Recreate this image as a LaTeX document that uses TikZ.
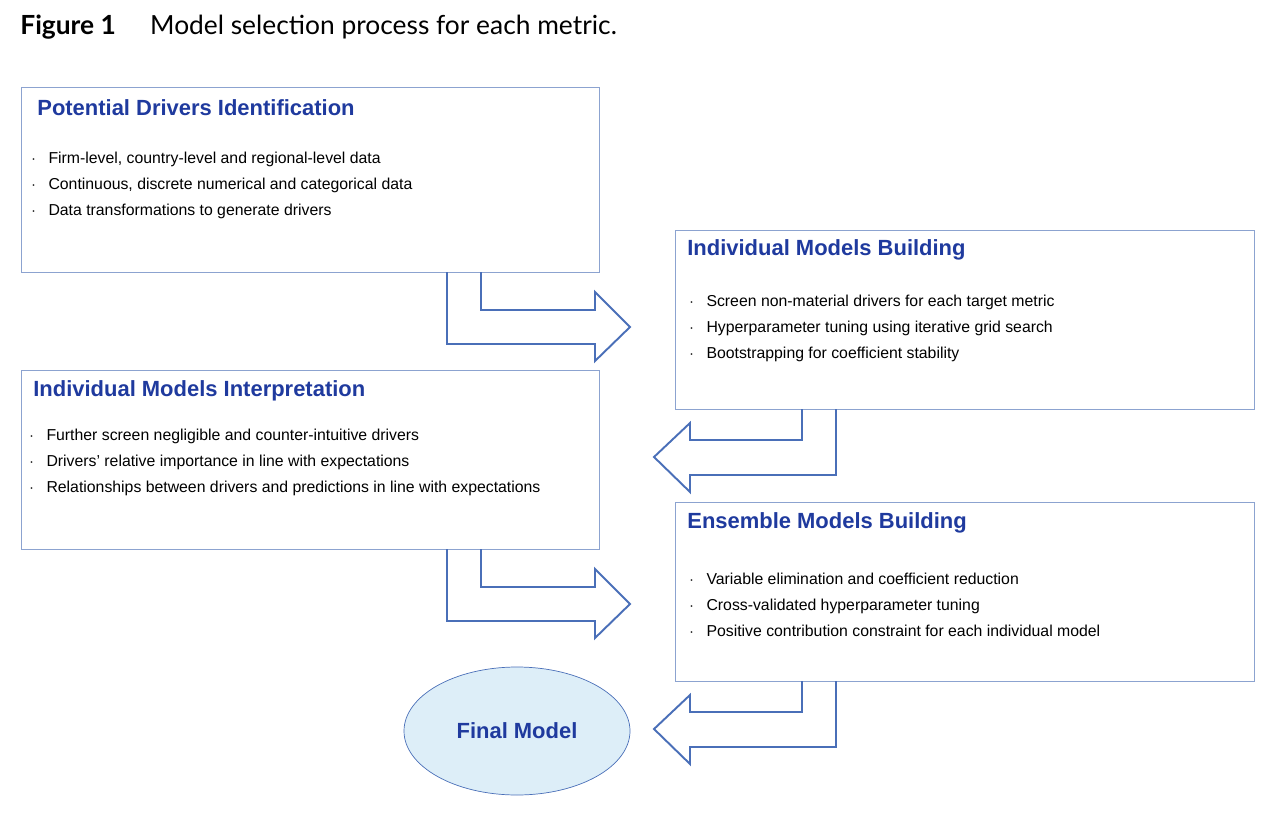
\documentclass[tikz,border=0pt]{standalone}
\usepackage{fontspec}
\setmainfont{Liberation Sans}
\newfontfamily\titlefont{Lato}
\usetikzlibrary{positioning}
\definecolor{headBlue}{HTML}{1F3A9E}
\definecolor{lineBlue}{HTML}{4A6FB8}
\definecolor{boxLine}{HTML}{8CA3D0}
\definecolor{ovalFill}{HTML}{DDEEF8}
\tikzstyle{stepBox}=[draw=boxLine, thin]
\tikzstyle{stepHead}=[anchor=west, inner sep=0pt, text=headBlue, font=\fontsize{12.5}{14}\selectfont\bfseries]
\tikzstyle{stepList}=[anchor=north west, inner sep=0pt, align=left, font=\fontsize{9}{14.7}\selectfont]
\tikzstyle{bentArrow}=[draw=lineBlue, line width=1.1pt, line join=miter]

\begin{document}
\begin{tikzpicture}[x=0.02cm, y=-0.02cm]
	\useasboundingbox (0,0) rectangle (1280,831);
	\node[anchor=west, inner sep=0pt, font=\titlefont\fontsize{15}{18}\selectfont] (title) at (20,27) {\textbf{Figure 1}\hspace{1.3em}Model selection process for each metric.};

	% boxes
	\draw[stepBox] (21,87) rectangle (599,272);
	\draw[stepBox] (675,230) rectangle (1254,409);
	\draw[stepBox] (21,370) rectangle (599,549);
	\draw[stepBox] (675,502) rectangle (1254,681);

	\node[stepHead] (h1) at (37,108) {Potential Drivers Identification};
	\node[stepList] (l1) at (31,152) {$\cdot$\hspace{0.8em}Firm-level, country-level and regional-level data\\$\cdot$\hspace{0.8em}Continuous, discrete numerical and categorical data\\$\cdot$\hspace{0.8em}Data transformations to generate drivers};

	\node[stepHead] (h2) at (687,250) {Individual Models Building};
	\node[stepList] (l2) at (689,295) {$\cdot$\hspace{0.8em}Screen non-material drivers for each target metric\\$\cdot$\hspace{0.8em}Hyperparameter tuning using iterative grid search\\$\cdot$\hspace{0.8em}Bootstrapping for coefficient stability};

	\node[stepHead] (h3) at (33,391) {Individual Models Interpretation};
	\node[stepList] (l3) at (29,429) {$\cdot$\hspace{0.8em}Further screen negligible and counter-intuitive drivers\\$\cdot$\hspace{0.8em}Drivers' relative importance in line with expectations\\$\cdot$\hspace{0.8em}Relationships between drivers and predictions in line with expectations};

	\node[stepHead] (h4) at (687,523) {Ensemble Models Building};
	\node[stepList] (l4) at (689,573) {$\cdot$\hspace{0.8em}Variable elimination and coefficient reduction\\$\cdot$\hspace{0.8em}Cross-validated hyperparameter tuning\\$\cdot$\hspace{0.8em}Positive contribution constraint for each individual model};

	\draw[draw=lineBlue, fill=ovalFill] (517,731) ellipse [x radius=113, y radius=64];
	\node[text=headBlue, font=\fontsize{12.5}{14}\selectfont\bfseries] (final) at (517,731) {Final Model};

	% bent arrows
	\draw[bentArrow] (447,272) -- (447,344) -- (595,344) -- (595,361) -- (630,327) -- (595,292) -- (595,310) -- (481,310) -- (481,272);
	\draw[bentArrow] (836,409) -- (836,475) -- (690,475) -- (690,492) -- (654,457) -- (690,423) -- (690,440) -- (802,440) -- (802,409);
	\draw[bentArrow] (447,549) -- (447,621) -- (595,621) -- (595,638) -- (630,604) -- (595,569) -- (595,587) -- (481,587) -- (481,549);
	\draw[bentArrow] (836,681) -- (836,747) -- (690,747) -- (690,764) -- (654,729) -- (690,695) -- (690,712) -- (802,712) -- (802,681);
\end{tikzpicture}
\end{document}
